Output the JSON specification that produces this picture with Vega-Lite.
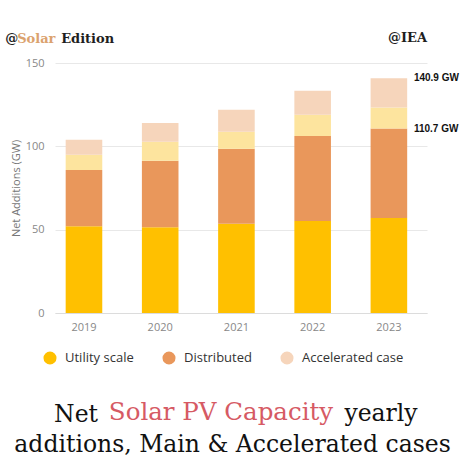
{
  "$schema": "https://vega.github.io/schema/vega-lite/v6.json",
  "background": "white",
  "padding": {"left": 5, "right": 5, "top": 32, "bottom": 5},
  "config": {
    "view": {"stroke": null},
    "font": "Open Sans",
    "concat": {"spacing": 0},
    "title": {"font": "DejaVu Serif", "fontWeight": "normal", "color": "#111111"}
  },
  "resolve": {"legend": {"color": "independent"}},
  "title": {
    "text": "additions, Main & Accelerated cases",
    "orient": "bottom",
    "anchor": "middle",
    "frame": "bounds",
    "fontSize": 23.5,
    "dx": 0.5,
    "offset": 6
  },
  "vconcat": [
    {
      "resolve": {"legend": {"color": "independent"}},
      "title": {
        "text": "yearly",
        "orient": "bottom",
        "anchor": "middle",
        "frame": "bounds",
        "fontSize": 23.5,
        "dx": 149,
        "offset": 0,
        "dy": -25
      },
      "vconcat": [
        {
          "resolve": {"legend": {"color": "independent"}},
          "title": {
            "text": "Solar PV Capacity",
            "orient": "bottom",
            "anchor": "middle",
            "frame": "bounds",
            "fontSize": 24.5,
            "color": "#D65A64",
            "dx": -11,
            "offset": 0,
            "dy": -25.5
          },
          "vconcat": [
            {
              "resolve": {"legend": {"color": "independent"}},
              "title": {
                "text": "Net",
                "orient": "bottom",
                "anchor": "middle",
                "frame": "bounds",
                "fontSize": 23.5,
                "dx": -156,
                "offset": 38
              },
              "vconcat": [
                {
                  "resolve": {"legend": {"color": "independent"}},
                  "title": {
                    "text": "Edition",
                    "orient": "top",
                    "anchor": "start",
                    "frame": "bounds",
                    "fontSize": 13,
                    "fontWeight": "bold",
                    "color": "#1e1e1e",
                    "dx": 56,
                    "dy": 18
                  },
                  "vconcat": [
                    {
                      "resolve": {"legend": {"color": "independent"}},
                      "title": {
                        "text": "Solar",
                        "orient": "top",
                        "anchor": "start",
                        "frame": "bounds",
                        "fontSize": 13,
                        "fontWeight": "bold",
                        "color": "#DBA26E",
                        "dx": 12,
                        "dy": 18
                      },
                      "vconcat": [
                        {
                          "resolve": {"legend": {"color": "independent"}},
                          "title": {
                            "text": "@",
                            "orient": "top",
                            "anchor": "start",
                            "frame": "bounds",
                            "fontSize": 13,
                            "fontWeight": "bold",
                            "color": "#1e1e1e",
                            "dx": -5,
                            "dy": 18
                          },
                          "vconcat": [
                            {
                              "width": 372,
                              "height": 250,
                              "title": {
                                "text": "@IEA",
                                "orient": "top",
                                "anchor": "end",
                                "frame": "group",
                                "fontSize": 13,
                                "fontWeight": "bold",
                                "color": "#1e1e1e",
                                "offset": 12
                              },
                              "data": {
                                "values": [
                                  {"year": "2019", "category": "Utility scale", "value": 52},
                                  {"year": "2019", "category": "Distributed", "value": 33.8},
                                  {"year": "2019", "category": "Accelerated utility", "value": 9.2},
                                  {"year": "2019", "category": "Accelerated case", "value": 9},
                                  {"year": "2020", "category": "Utility scale", "value": 51.4},
                                  {"year": "2020", "category": "Distributed", "value": 40},
                                  {"year": "2020", "category": "Accelerated utility", "value": 11.4},
                                  {"year": "2020", "category": "Accelerated case", "value": 11.2},
                                  {"year": "2021", "category": "Utility scale", "value": 53.6},
                                  {"year": "2021", "category": "Distributed", "value": 45},
                                  {"year": "2021", "category": "Accelerated utility", "value": 10.2},
                                  {"year": "2021", "category": "Accelerated case", "value": 13.2},
                                  {"year": "2022", "category": "Utility scale", "value": 55.2},
                                  {"year": "2022", "category": "Distributed", "value": 51},
                                  {"year": "2022", "category": "Accelerated utility", "value": 12.8},
                                  {"year": "2022", "category": "Accelerated case", "value": 14.4},
                                  {"year": "2023", "category": "Utility scale", "value": 57},
                                  {"year": "2023", "category": "Distributed", "value": 53.7},
                                  {"year": "2023", "category": "Accelerated utility", "value": 12.6},
                                  {"year": "2023", "category": "Accelerated case", "value": 17.6}
                                ]
                              },
                              "layer": [
                                {
                                  "mark": {"type": "bar"},
                                  "encoding": {
                                    "x": {
                                      "field": "year",
                                      "type": "ordinal",
                                      "scale": {"paddingInner": 0.52, "paddingOuter": 0.2, "align": 0.35},
                                      "axis": {
                                        "title": null,
                                        "labelAngle": 0,
                                        "ticks": false,
                                        "domainColor": "#dcdcdc",
                                        "labelColor": "#888888",
                                        "labelFontSize": 11,
                                        "labelPadding": 8
                                      }
                                    },
                                    "y": {
                                      "field": "value",
                                      "type": "quantitative",
                                      "stack": "zero",
                                      "scale": {"domain": [0, 150], "nice": false},
                                      "axis": {
                                        "title": "Net Additions (GW)",
                                        "values": [0, 50, 100, 150],
                                        "domain": false,
                                        "ticks": false,
                                        "gridColor": "#e8e8e8",
                                        "labelColor": "#888888",
                                        "labelFontSize": 11,
                                        "labelPadding": 11,
                                        "titleColor": "#777777",
                                        "titleFontSize": 11,
                                        "titleFontWeight": "normal",
                                        "titlePadding": 4
                                      }
                                    },
                                    "color": {
                                      "field": "category",
                                      "type": "nominal",
                                      "sort": ["Utility scale", "Distributed", "Accelerated utility", "Accelerated case"],
                                      "scale": {
                                        "domain": ["Utility scale", "Distributed", "Accelerated utility", "Accelerated case"],
                                        "range": ["#FFC000", "#E9975B", "#FDE49E", "#F6D5BB"]
                                      },
                                      "legend": {
                                        "orient": "none",
                                        "legendX": -12,
                                        "legendY": 288,
                                        "direction": "horizontal",
                                        "title": null,
                                        "values": ["Utility scale", "Distributed", "Accelerated case"],
                                        "symbolType": "circle",
                                        "symbolSize": 170,
                                        "symbolStrokeWidth": 0,
                                        "labelFontSize": 13,
                                        "labelColor": "#333333",
                                        "labelOffset": 8,
                                        "columnPadding": 28
                                      }
                                    }
                                  }
                                },
                                {
                                  "data": {
                                    "values": [
                                      {"year": "2023", "value": 140.9, "label": "140.9 GW"},
                                      {"year": "2023", "value": 110.7, "label": "110.7 GW"}
                                    ]
                                  },
                                  "mark": {"type": "text", "align": "left", "baseline": "middle", "dx": 25, "font": "Liberation Sans", "fontSize": 10, "fontWeight": "bold", "color": "#111111"},
                                  "encoding": {
                                    "x": {"field": "year", "type": "ordinal"},
                                    "y": {"field": "value", "type": "quantitative"},
                                    "text": {"field": "label"}
                                  }
                                }
                              ]
                            }
                          ]
                        }
                      ]
                    }
                  ]
                }
              ]
            }
          ]
        }
      ]
    }
  ]
}
